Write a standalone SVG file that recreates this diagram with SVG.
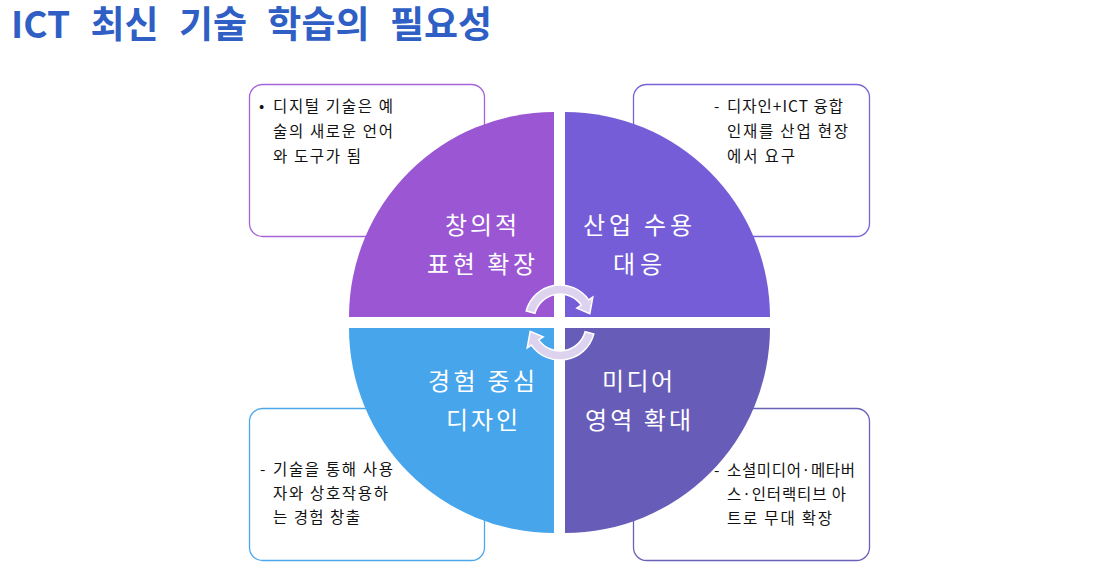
<svg xmlns="http://www.w3.org/2000/svg" width="1099" height="571" viewBox="0 0 1099 571">
<style>
.title{font-family:"Noto Sans CJK KR","Noto Sans",sans-serif;font-weight:bold;font-size:37px;fill:#2F5FC5;word-spacing:12px}
.box{fill:#fff;stroke-width:1.3}
.bt{font-family:"Noto Sans CJK KR",sans-serif;font-size:15.5px;fill:#111}
.ql{font-family:"Noto Sans CJK KR",sans-serif;font-size:24px;fill:#fff;text-anchor:middle}
.arr{fill:#DDD3EE;stroke:#fff;stroke-width:1.5}
</style>
<rect width="1099" height="571" fill="#fff"/>
<text class="title" x="11" y="38">ICT 최신 기술 학습의 필요성</text>

<g id="box-tl">
<rect class="box" x="249.5" y="84.5" width="235" height="152" rx="13" stroke="#A463D8"/>
<text class="bt" x="259" y="112">•</text>
<text class="bt" x="273" y="112" textLength="120" lengthAdjust="spacing">디지털 기술은 예</text>
<text class="bt" x="273" y="137" textLength="120" lengthAdjust="spacing">술의 새로운 언어</text>
<text class="bt" x="273" y="161.5" textLength="88" lengthAdjust="spacing">와 도구가 됨</text>
</g>
<g id="box-tr">
<rect class="box" x="633.5" y="84.5" width="236" height="152" rx="13" stroke="#7A62D8"/>
<text class="bt" x="714" y="112">-</text>
<text class="bt" x="727" y="112" textLength="116" lengthAdjust="spacing">디자인+ICT 융합</text>
<text class="bt" x="727" y="137" textLength="121" lengthAdjust="spacing">인재를 산업 현장</text>
<text class="bt" x="727" y="162" textLength="68" lengthAdjust="spacing">에서 요구</text>
</g>
<g id="box-bl">
<rect class="box" x="249.5" y="408.5" width="235" height="152" rx="13" stroke="#4DA7EC"/>
<text class="bt" x="260" y="475">-</text>
<text class="bt" x="273" y="475" textLength="120" lengthAdjust="spacing">기술을 통해 사용</text>
<text class="bt" x="273" y="499" textLength="115" lengthAdjust="spacing">자와 상호작용하</text>
<text class="bt" x="273" y="523" textLength="87" lengthAdjust="spacing">는 경험 창출</text>
</g>
<g id="box-br">
<rect class="box" x="633.5" y="408.5" width="236" height="152" rx="13" stroke="#6A62B8"/>
<text class="bt" x="714" y="475.5">-</text>
<text class="bt" x="727" y="475.5" textLength="128" lengthAdjust="spacing">소셜미디어·메타버</text>
<text class="bt" x="727" y="500" textLength="119" lengthAdjust="spacing">스·인터랙티브 아</text>
<text class="bt" x="727" y="524" textLength="105" lengthAdjust="spacing">트로 무대 확장</text>
</g>

<g id="q-tl">
<path d="M554,317 L349,317 A205,205 0 0 1 554,112 Z" fill="#9B57D3"/>
<text class="ql" x="481" y="233.5" textLength="72" lengthAdjust="spacing">창의적</text>
<text class="ql" x="481" y="272.5" textLength="108" lengthAdjust="spacing">표현 확장</text>
</g>
<g id="q-tr">
<path d="M565,317 L565,112 A205,205 0 0 1 770,317 Z" fill="#755DD8"/>
<text class="ql" x="637.5" y="233.5" textLength="109" lengthAdjust="spacing">산업 수용</text>
<text class="ql" x="637.5" y="272.5" textLength="49" lengthAdjust="spacing">대응</text>
</g>
<g id="q-bl">
<path d="M554,328 L554,533 A205,205 0 0 1 349,328 Z" fill="#47A5EC"/>
<text class="ql" x="481.5" y="389.5" textLength="107" lengthAdjust="spacing">경험 중심</text>
<text class="ql" x="482" y="429" textLength="72" lengthAdjust="spacing">디자인</text>
</g>
<g id="q-br">
<path d="M565,328 L770,328 A205,205 0 0 1 565,533 Z" fill="#675DB8"/>
<text class="ql" x="637.5" y="389.5" textLength="71" lengthAdjust="spacing">미디어</text>
<text class="ql" x="638" y="428.5" textLength="106" lengthAdjust="spacing">영역 확대</text>
</g>

<g id="connectors">
<path id="arc-top" class="arr" d="M526.2,310.9 A35,35 0 0 1 588.7,299.9 L592.8,297.1 L589.8,313.7 L576.8,308.2 L581.3,305.1 A26,26 0 0 0 534.9,313.3 Z"/>
<path id="arc-bottom" class="arr" transform="rotate(180 560 322.5)" d="M526.2,310.9 A35,35 0 0 1 588.7,299.9 L592.8,297.1 L589.8,313.7 L576.8,308.2 L581.3,305.1 A26,26 0 0 0 534.9,313.3 Z"/>
</g>
</svg>
